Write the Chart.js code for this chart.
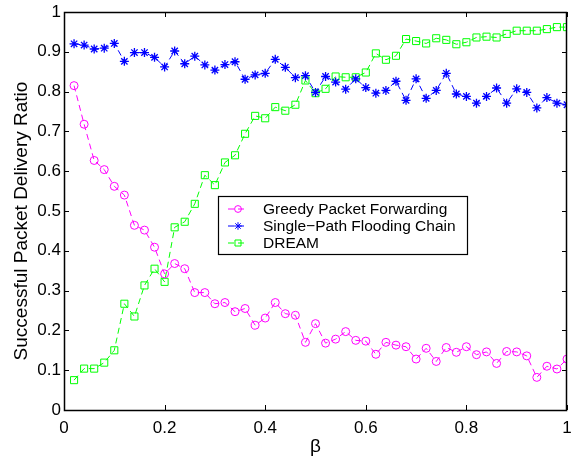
<!DOCTYPE html>
<html>
<head>
<meta charset="utf-8">
<script src="https://cdn.jsdelivr.net/npm/chart.js@4/dist/chart.umd.min.js"></script>
<style>
  html, body { margin: 0; padding: 0; background: #fff; overflow: hidden; }
  #wrap { width: 573px; height: 458px; position: relative; }
</style>
</head>
<body>
<div id="wrap"><canvas id="deliveryChart"></canvas></div>
<script>
// beta values on the x axis
const betaValues = [
  0.02, 0.04, 0.06, 0.08, 0.10, 0.12, 0.14, 0.16, 0.18, 0.20,
  0.22, 0.24, 0.26, 0.28, 0.30, 0.32, 0.34, 0.36, 0.38, 0.40,
  0.42, 0.44, 0.46, 0.48, 0.50, 0.52, 0.54, 0.56, 0.58, 0.60,
  0.62, 0.64, 0.66, 0.68, 0.70, 0.72, 0.74, 0.76, 0.78, 0.80,
  0.82, 0.84, 0.86, 0.88, 0.90, 0.92, 0.94, 0.96, 0.98, 1.00
];

const greedyForwarding = [
  0.815, 0.718, 0.627, 0.604, 0.562, 0.540, 0.464, 0.452, 0.409, 0.342,
  0.368, 0.355, 0.295, 0.295, 0.267, 0.270, 0.247, 0.255, 0.213, 0.231,
  0.270, 0.242, 0.238, 0.170, 0.217, 0.168, 0.178, 0.197, 0.175, 0.173,
  0.140, 0.170, 0.163, 0.159, 0.128, 0.155, 0.122, 0.157, 0.145, 0.159,
  0.139, 0.146, 0.117, 0.147, 0.146, 0.136, 0.082, 0.110, 0.103, 0.128
];

const singlePathChain = [
  0.920, 0.917, 0.907, 0.909, 0.921, 0.876, 0.898, 0.898, 0.886, 0.862,
  0.902, 0.870, 0.889, 0.867, 0.854, 0.868, 0.875, 0.831, 0.842, 0.846,
  0.881, 0.861, 0.835, 0.840, 0.798, 0.838, 0.824, 0.806, 0.832, 0.810,
  0.796, 0.803, 0.826, 0.778, 0.832, 0.783, 0.803, 0.846, 0.794, 0.788,
  0.771, 0.788, 0.809, 0.771, 0.807, 0.798, 0.759, 0.785, 0.771, 0.767
];

const dream = [
  0.075, 0.104, 0.104, 0.119, 0.150, 0.267, 0.235, 0.313, 0.355, 0.322,
  0.459, 0.473, 0.518, 0.590, 0.565, 0.622, 0.640, 0.694, 0.739, 0.733,
  0.761, 0.752, 0.767, 0.828, 0.796, 0.807, 0.838, 0.836, 0.836, 0.848,
  0.896, 0.880, 0.890, 0.932, 0.927, 0.921, 0.934, 0.930, 0.919, 0.924,
  0.936, 0.938, 0.936, 0.945, 0.953, 0.953, 0.953, 0.957, 0.962, 0.962
];

const seriesNames = ["Greedy Packet Forwarding", "Single\u2212Path Flooding Chain", "DREAM"];
const xTicks = [0, 0.2, 0.4, 0.6, 0.8, 1];
const yTicks = [0, 0.1, 0.2, 0.3, 0.4, 0.5, 0.6, 0.7, 0.8, 0.9, 1];
const yTitle = "Successful Packet Delivery Ratio";

const FONT = "'Liberation Sans', Arial, Helvetica, sans-serif";

function toPoints(ys) {
  return betaValues.map((x, i) => ({ x: x, y: ys[i] }));
}

// frame + inward ticks on all four sides (matlab style)
const boxAxes = {
  id: "boxAxes",
  afterDraw(chart) {
    const ctx = chart.ctx;
    const a = chart.chartArea;
    const len = 5;
    ctx.save();
    ctx.strokeStyle = "#000";
    ctx.lineWidth = 1;
    ctx.beginPath();
    chart.scales.x.ticks.forEach(t => {
      const px = Math.round(chart.scales.x.getPixelForValue(t.value)) + 0.5;
      ctx.moveTo(px, a.bottom); ctx.lineTo(px, a.bottom - len);
      ctx.moveTo(px, a.top); ctx.lineTo(px, a.top + len);
    });
    chart.scales.y.ticks.forEach(t => {
      const py = Math.round(chart.scales.y.getPixelForValue(t.value)) + 0.5;
      ctx.moveTo(a.left, py); ctx.lineTo(a.left + len, py);
      ctx.moveTo(a.right, py); ctx.lineTo(a.right - len, py);
    });
    ctx.stroke();
    ctx.lineWidth = 1.5;
    ctx.strokeRect(Math.round(a.left) + 0.5, Math.round(a.top) + 0.5,
      Math.round(a.right - a.left) - 1, Math.round(a.bottom - a.top));

    // rotated y title, a bit below the axis centre like the original
    ctx.fillStyle = "#000";
    ctx.font = "19px " + FONT;
    ctx.textAlign = "center";
    ctx.textBaseline = "middle";
    ctx.translate(22, (a.top + a.bottom) / 2 + 10);
    ctx.rotate(-Math.PI / 2);
    ctx.fillText(yTitle, 0, 0);
    ctx.restore();
  }
};

// boxed legend in the middle of the plot
const boxLegend = {
  id: "boxLegend",
  afterDraw(chart) {
    const ctx = chart.ctx;
    const left = 218, top = 196, w = 249, h = 58;
    const rowH = 17;
    ctx.save();
    ctx.fillStyle = "#fff";
    ctx.fillRect(left, top, w, h);
    ctx.strokeStyle = "#000";
    ctx.lineWidth = 1.2;
    ctx.strokeRect(left + 0.5, top + 0.5, w, h);
    ctx.font = "15.5px " + FONT;
    ctx.textBaseline = "middle";
    chart.data.datasets.forEach((ds, i) => {
      const cy = top + 13 + i * rowH;
      ctx.strokeStyle = ds.borderColor;
      ctx.lineWidth = 1;
      ctx.setLineDash(ds.borderDash);
      ctx.beginPath();
      ctx.moveTo(228, cy); ctx.lineTo(248, cy);
      ctx.stroke();
      ctx.setLineDash([]);
      ctx.fillStyle = "rgba(0,0,0,0)";
      Chart.helpers.drawPoint(ctx, {
        pointStyle: ds.pointStyle,
        radius: ds.pointRadius * 0.85,
        borderWidth: 1
      }, 238, cy);
      ctx.fillStyle = "#000";
      ctx.fillText(ds.label, 263, cy + 1);
    });
    ctx.restore();
  }
};

new Chart(document.getElementById("deliveryChart"), {
  type: "line",
  data: {
    datasets: [
      {
        label: seriesNames[0],
        data: toPoints(greedyForwarding),
        borderColor: "#ff00ff",
        backgroundColor: "rgba(0,0,0,0)",
        borderWidth: 1,
        borderDash: [6, 4],
        pointStyle: "circle",
        pointRadius: 4,
        pointBorderWidth: 1
      },
      {
        label: seriesNames[1],
        data: toPoints(singlePathChain),
        borderColor: "#0000ff",
        backgroundColor: "rgba(0,0,0,0)",
        borderWidth: 1,
        borderDash: [6, 4],
        pointStyle: "star",
        pointRadius: 4.5,
        pointBorderWidth: 1.3
      },
      {
        label: seriesNames[2],
        data: toPoints(dream),
        borderColor: "#00ff00",
        backgroundColor: "rgba(0,0,0,0)",
        borderWidth: 1,
        borderDash: [6, 4],
        pointStyle: "rect",
        pointRadius: 5,
        pointBorderWidth: 1
      }
    ]
  },
  options: {
    responsive: true,
    maintainAspectRatio: false,
    animation: false,
    layout: { padding: { top: 12, right: 0, left: 0, bottom: 0 } },
    plugins: {
      legend: { display: false },
      tooltip: { enabled: false }
    },
    scales: {
      x: {
        type: "linear",
        min: 0,
        max: 1,
        afterBuildTicks: s => { s.ticks = xTicks.map(v => ({ value: v })); },
        afterFit: s => { s.height = 48; s.paddingLeft = 0; s.paddingRight = 0; },
        grid: { display: false, drawTicks: false },
        border: { display: false },
        ticks: {
          color: "#000",
          padding: 8,
          maxRotation: 0,
          font: { family: FONT, size: 17 },
          callback: v => String(v)
        },
        title: {
          display: true,
          text: "\u03b2",
          color: "#000",
          padding: { top: -6, bottom: 0 },
          font: { family: FONT, size: 19 }
        }
      },
      y: {
        type: "linear",
        min: 0,
        max: 1,
        afterBuildTicks: s => { s.ticks = yTicks.map(v => ({ value: v })); },
        afterFit: s => { s.width = 64; s.paddingTop = 0; s.paddingBottom = 0; },
        grid: { display: false, drawTicks: false },
        border: { display: false },
        ticks: {
          color: "#000",
          padding: 3,
          font: { family: FONT, size: 17 },
          callback: v => String(v)
        }
      }
    }
  },
  plugins: [boxAxes, boxLegend]
});
</script>
</body>
</html>
